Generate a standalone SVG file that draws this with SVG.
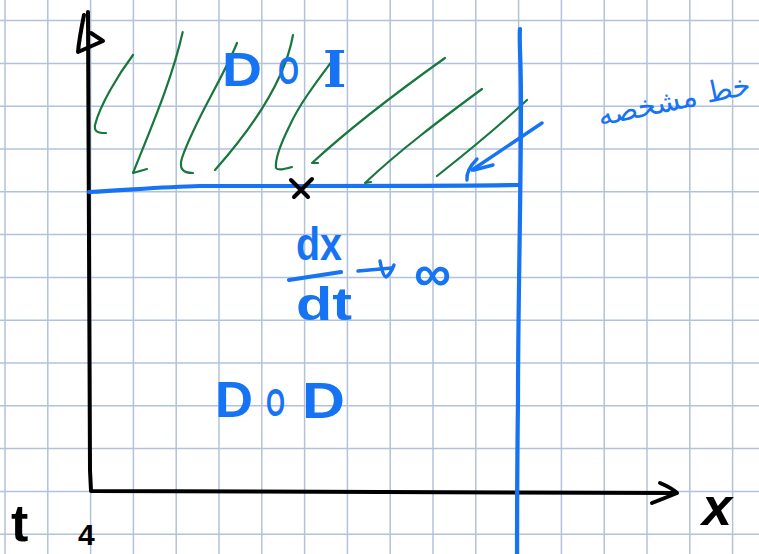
<svg xmlns="http://www.w3.org/2000/svg" width="759" height="554" viewBox="0 0 759 554">
<defs>
<style>
.grid{stroke:#b3c2db;stroke-width:1.5;fill:none}
.blk{stroke:#000;stroke-width:4;fill:none;stroke-linecap:round;stroke-linejoin:round}
.blu{stroke:#1673f4;stroke-width:4.2;fill:none;stroke-linecap:round;stroke-linejoin:round}
.grn{stroke:#17773d;stroke-width:2.2;fill:none;stroke-linecap:round;stroke-linejoin:round}
.bt{fill:#1673f4;font-family:"Liberation Sans",Arial,sans-serif;font-weight:bold}
.kt{fill:#000;font-family:"Liberation Sans",Arial,sans-serif;font-weight:bold}
</style>
</defs>
<rect width="759" height="554" fill="#fff"/>
<g id="grid" class="grid">
<path d="M5,0V554M47.8,0V554M90.6,0V554M133.4,0V554M176.2,0V554M219,0V554M261.8,0V554M304.6,0V554M347.4,0V554M390.2,0V554M433,0V554M475.8,0V554M518.6,0V554M561.4,0V554M604.2,0V554M647,0V554M689.8,0V554M732.6,0V554"/>
<path d="M0,20.6H759M0,63.4H759M0,106.2H759M0,149H759M0,191.8H759M0,234.6H759M0,277.4H759M0,320.2H759M0,363H759M0,405.8H759M0,448.6H759M0,491.4H759M0,534.2H759"/>
</g>
<g id="hatch" class="grn">
<path d="M133,55 C118,75 100,105 95,125 C94,132 98,133 106,133"/>
<path d="M182.7,32 C172,80 150,130 133,173 L147,169"/>
<path d="M237,43 C222,80 195,120 182,158 C179,168 182,173 193,173"/>
<path d="M293,35 C285,80 255,125 215,170"/>
<path d="M335,57 C318,80 300,103 290,125 C280,145 275,160 276,168 C278,171 285,169 292,167"/>
<path d="M445,58 C400,90 350,128 312,163 L318,163"/>
<path d="M482,89 C440,120 400,150 365,183 L371,182"/>
<path d="M527,100 C500,125 470,150 437,176"/>
</g>
<g id="axes">
<path class="blk" d="M88,12 C89,150 90,300 90,470 L91,491 C250,491 450,493 676,493"/>
<path class="blk" d="M84,15 C82,25 79,40 78,52 L103,41 L91,33" stroke-width="5.5"/>
<path class="blk" d="M660,483 Q672,488 677,493 Q665,498 652,503"/>
</g>
<g id="characteristic" class="blu">
<path d="M89,192 C130,190 160,187 200,186 L300,186 C400,186 480,186 518,185"/>
<path d="M520,29 C519,40 521,60 521,100 C521,200 518,300 518,400 C517,470 517,520 517,554"/>
<path d="M542,123 L472,170" stroke-width="3.4"/>
<path d="M493,165 L474,170 M477,159 C470,166 466,172 467,180" stroke-width="3.4"/>
</g>
<g id="point">
<path class="blk" d="M291,180 L308,197 M312,179 L294,197" stroke-width="4.2"/>
</g>
<g id="arrow-inf" class="blu">
<path d="M358,271 L392,268" stroke-width="3.4"/>
<path d="M380,261 Q383,277 386,277 Q390,275 394,265" stroke-width="3.4"/>
<path d="M289,280 L341,272"/>
</g>
<g id="labels">
<text class="bt"><tspan x="222" y="86" font-size="48" textLength="40" lengthAdjust="spacingAndGlyphs">D</tspan><tspan x="278" y="84" font-size="38" textLength="21" lengthAdjust="spacingAndGlyphs">O</tspan><tspan x="323" y="87" font-size="50" font-family="DejaVu Serif">I</tspan></text>
<text class="bt"><tspan x="215" y="417" font-size="50" textLength="38" lengthAdjust="spacingAndGlyphs">D</tspan><tspan x="266" y="416" font-size="38" textLength="19" lengthAdjust="spacingAndGlyphs">O</tspan><tspan x="302" y="418" font-size="50" textLength="43" lengthAdjust="spacingAndGlyphs">D</tspan></text>
<text class="bt" x="296" y="260" font-size="46" textLength="46" lengthAdjust="spacingAndGlyphs">dx</text>
<text class="bt" x="296" y="320" font-size="46" textLength="56" lengthAdjust="spacingAndGlyphs">dt</text>
<text class="bt" x="414" y="291" font-size="52" font-family="DejaVu Sans">∞</text>
<text x="600" y="126" font-size="29" fill="#1673f4" font-family="DejaVu Sans,sans-serif" transform="rotate(-12 600 126)">خط مشخصه</text>
<text class="kt" x="702" y="525" font-size="54" font-family="Liberation Serif" font-style="italic">x</text>
<text class="kt" x="11" y="541" font-size="52">t</text>
<text class="kt" x="78" y="545" font-size="30">4</text>
</g>
</svg>
